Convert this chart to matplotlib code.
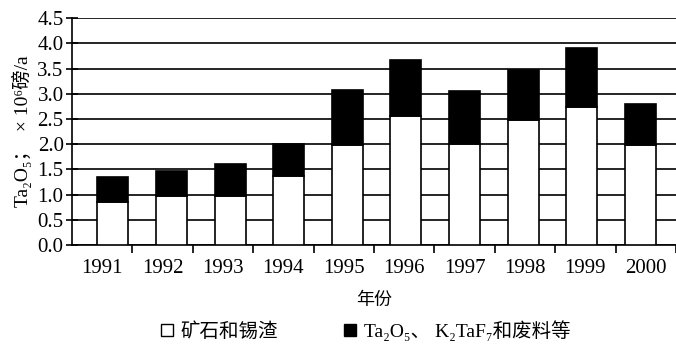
import matplotlib
matplotlib.use("Agg")
import matplotlib.pyplot as plt
from matplotlib.patches import Patch

plt.rcParams['font.family'] = ['Liberation Serif', 'Noto Sans CJK SC', 'DejaVu Sans']

# Data
years = ['1991', '1992', '1993', '1994', '1995', '1996', '1997', '1998', '1999', '2000']
ore_slag = [0.85, 0.97, 0.97, 1.36, 1.98, 2.56, 2.01, 2.47, 2.73, 1.99]
totals = [1.35, 1.47, 1.60, 2.00, 3.08, 3.66, 3.05, 3.47, 3.91, 2.80]
other = [t - o for t, o in zip(totals, ore_slag)]
yticks = [0.0, 0.5, 1.0, 1.5, 2.0, 2.5, 3.0, 3.5, 4.0, 4.5]

fig = plt.figure(figsize=(6.76, 3.48), dpi=100)
ax = fig.add_axes([0.1065, 0.296, 0.8935, 0.652])

x = range(len(years))
ax.set_axisbelow(True)
ax.yaxis.grid(True, color='black', linewidth=1.2)

ax.set_xlim(-0.5, len(years) - 0.5)
ax.set_ylim(0, 4.5)
ax.set_yticks(yticks)
ax.set_yticklabels(['%.1f' % v for v in yticks], fontsize=15)
ax.set_xticks(list(x))
ax.set_xticklabels(years, fontsize=15)
ax.tick_params(axis='x', length=0, pad=10)
ax.set_xticks([i - 0.5 for i in range(1, len(years) + 1)], minor=True)
ax.tick_params(axis='x', which='minor', length=6, width=1.2, direction='out')
ax.tick_params(axis='y', length=8, width=1.2, direction='inout', pad=2)

for s in ['top', 'right']:
    ax.spines[s].set_visible(False)
ax.spines['left'].set_linewidth(1.2)
ax.spines['bottom'].set_linewidth(1.2)

# bars sit on a slightly tighter spacing than the year labels in the scan
bx = ax.twiny()
bx.set_xlim(-0.696, 9.606)
bx.set_ylim(0, 4.5)
bx.bar(x, ore_slag, width=0.53, color='white', edgecolor='black', linewidth=1.2)
bx.bar(x, other, width=0.53, bottom=ore_slag, color='black', edgecolor='black', linewidth=1.2)
bx.set_xticks([])
for s in bx.spines.values():
    s.set_visible(False)

ax.set_xlabel('年份', fontsize=13, labelpad=10)
ax.set_ylabel('Ta₂O₅；  × 10⁶磅/a', fontsize=14, labelpad=4)

handles = [Patch(facecolor='white', edgecolor='black', linewidth=1.0),
           Patch(facecolor='black', edgecolor='black', linewidth=1.0)]
fig.legend(handles, ['矿石和锡渣', 'Ta₂O₅、 K₂TaF₇和废料等'], loc='center',
           bbox_to_anchor=(0.541, 0.05), ncol=2, frameon=False, fontsize=14,
           handlelength=0.62, handleheight=0.62, handletextpad=0.4, columnspacing=3.4)

fig.savefig('out.png', dpi=100)
